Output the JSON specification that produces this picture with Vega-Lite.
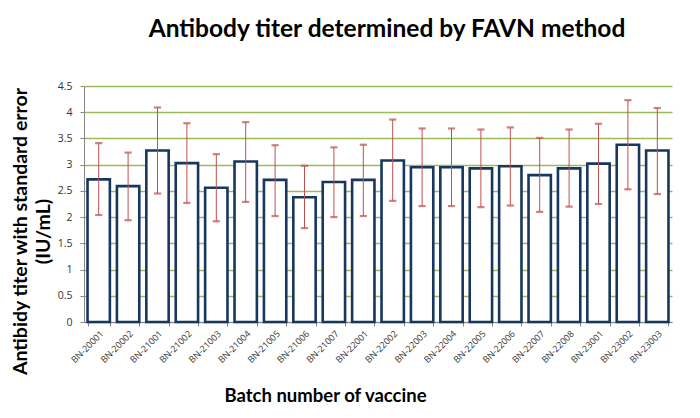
{
  "$schema": "https://vega.github.io/schema/vega-lite/v6.json",
  "autosize": {"type": "none"},
  "width": 588,
  "height": 236,
  "padding": {"left": 84, "top": 86, "right": 28, "bottom": 96},
  "background": "white",
  "title": {
    "text": "Antibody titer determined by FAVN method",
    "font": "Lato",
    "fontSize": 24.5,
    "fontWeight": "bold",
    "color": "#000000",
    "anchor": "middle",
    "offset": 39,
    "dx": 9
  },
  "data": {
    "values": [
      {"batch": "BN-20001", "titer": 2.72, "lo": 2.04, "hi": 3.41},
      {"batch": "BN-20002", "titer": 2.59, "lo": 1.94, "hi": 3.23},
      {"batch": "BN-21001", "titer": 3.27, "lo": 2.45, "hi": 4.09},
      {"batch": "BN-21002", "titer": 3.03, "lo": 2.27, "hi": 3.79},
      {"batch": "BN-21003", "titer": 2.56, "lo": 1.92, "hi": 3.20},
      {"batch": "BN-21004", "titer": 3.06, "lo": 2.29, "hi": 3.81},
      {"batch": "BN-21005", "titer": 2.71, "lo": 2.02, "hi": 3.37},
      {"batch": "BN-21006", "titer": 2.38, "lo": 1.79, "hi": 2.98},
      {"batch": "BN-21007", "titer": 2.67, "lo": 2.00, "hi": 3.33},
      {"batch": "BN-22001", "titer": 2.71, "lo": 2.02, "hi": 3.38},
      {"batch": "BN-22002", "titer": 3.08, "lo": 2.31, "hi": 3.86},
      {"batch": "BN-22003", "titer": 2.95, "lo": 2.21, "hi": 3.69},
      {"batch": "BN-22004", "titer": 2.95, "lo": 2.21, "hi": 3.69},
      {"batch": "BN-22005", "titer": 2.93, "lo": 2.19, "hi": 3.67},
      {"batch": "BN-22006", "titer": 2.97, "lo": 2.22, "hi": 3.71},
      {"batch": "BN-22007", "titer": 2.80, "lo": 2.10, "hi": 3.51},
      {"batch": "BN-22008", "titer": 2.93, "lo": 2.20, "hi": 3.67},
      {"batch": "BN-23001", "titer": 3.02, "lo": 2.25, "hi": 3.78},
      {"batch": "BN-23002", "titer": 3.38, "lo": 2.53, "hi": 4.23},
      {"batch": "BN-23003", "titer": 3.27, "lo": 2.44, "hi": 4.08}
    ]
  },
  "encoding": {
    "x": {
      "field": "batch",
      "type": "nominal",
      "sort": null,
      "scale": {"paddingInner": 0.24, "paddingOuter": 0.12},
      "axis": {
        "title": "Batch number of vaccine",
        "titleFont": "Lato",
        "titleFontSize": 18.5,
        "titleFontWeight": "bold",
        "titleColor": "#000000",
        "titlePadding": 22,
        "titleX": 241,
        "labelAngle": -45,
        "labelFont": "Open Sans",
        "labelFontSize": 9,
        "labelColor": "#333333",
        "labelPadding": 3,
        "tickBand": "extent",
        "tickColor": "#888888",
        "tickSize": 4,
        "domainColor": "#888888",
        "grid": false
      }
    }
  },
  "layer": [
    {
      "mark": {"type": "bar", "fill": "white", "stroke": "#17375E", "strokeWidth": 2.6},
      "encoding": {
        "y": {
          "field": "titer",
          "type": "quantitative",
          "scale": {"domain": [0, 4.5]},
          "axis": {
            "title": ["Antibidy titer with standard error", "(IU/mL)"],
            "titleFont": "Lato",
            "titleFontSize": 19.5,
            "titleFontWeight": "bold",
            "titleColor": "#000000",
            "titlePadding": 4,
            "titleLineHeight": 23,
            "titleY": 145,
            "values": [0, 0.5, 1, 1.5, 2, 2.5, 3, 3.5, 4, 4.5],
            "format": "~g",
            "labelFont": "Open Sans",
            "labelFontSize": 10.5,
            "labelColor": "#333333",
            "labelPadding": 8,
            "tickColor": "#888888",
            "tickSize": 4,
            "domainColor": "#888888",
            "gridColor": "#9BBB59",
            "gridWidth": 1.5,
            "gridOpacity": 1
          }
        }
      }
    },
    {
      "mark": {"type": "errorbar", "color": "#C0504D", "ticks": {"size": 6, "color": "#C0504D", "stroke": "#C0504D", "strokeWidth": 1.2}, "rule": {"color": "#C0504D", "stroke": "#C0504D", "strokeWidth": 1}},
      "encoding": {
        "y": {
          "field": "lo",
          "type": "quantitative",
          "axis": {
            "title": ["Antibidy titer with standard error", "(IU/mL)"],
            "titleFont": "Lato",
            "titleFontSize": 19.5,
            "titleFontWeight": "bold",
            "titleColor": "#000000",
            "titlePadding": 4,
            "titleLineHeight": 23,
            "titleY": 145,
            "values": [0, 0.5, 1, 1.5, 2, 2.5, 3, 3.5, 4, 4.5],
            "format": "~g",
            "labelFont": "Open Sans",
            "labelFontSize": 10.5,
            "labelColor": "#333333",
            "labelPadding": 8,
            "tickColor": "#888888",
            "tickSize": 4,
            "domainColor": "#888888",
            "gridColor": "#9BBB59",
            "gridWidth": 1.5,
            "gridOpacity": 1
          }
        },
        "y2": {"field": "hi"}
      }
    }
  ],
  "config": {"view": {"stroke": null}}
}
